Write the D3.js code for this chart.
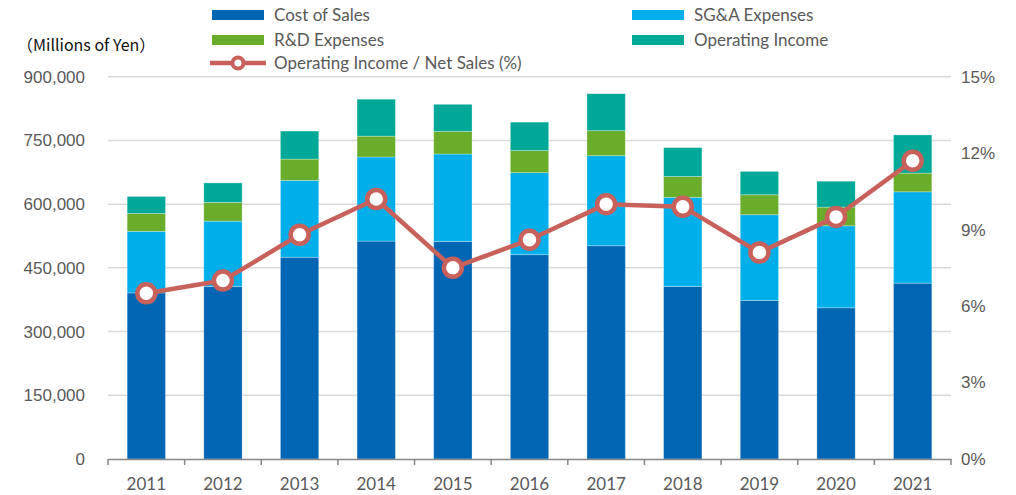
<!DOCTYPE html>
<html><head><meta charset="utf-8">
<script src="https://cdn.jsdelivr.net/npm/d3@7"></script>
<style>
body{margin:0;background:#fff;}
svg{display:block;font-family:"Lato","Open Sans",sans-serif;}
</style></head>
<body><svg id="c" width="1016" height="495"></svg>
<script>
const years = ["2011","2012","2013","2014","2015","2016","2017","2018","2019","2020","2021"];
const costOfSales = [391,406,475,513,512,481,502,406,373,356,414];
const sgaExpenses = [145,154,181,198,206,193,212,210,202,193,215];
const rdExpenses = [42,44,50,49,53,52,59,49,47,44,44];
const operatingIncome = [40,46,66,87,64,67,87,68,55,61,90];
const opMargin = [6.5,7.0,8.8,10.2,7.5,8.6,10.0,9.9,8.1,9.5,11.7];
const leftTicks = [0,150000,300000,450000,600000,750000,900000];
const rightTicks = [0,3,6,9,12,15];
const seriesNames = ["Cost of Sales","SG&A Expenses","R&D Expenses","Operating Income"];
const lineName = "Operating Income / Net Sales (%)";
const colors = ["#0066b3","#00aeea","#6aad2b","#00a997"];
const lineColor = "#c8605b";

(function(){
const svg = d3.select("#c");
const pLeft = 108, pRight = 951, pTop = 76.7, pBottom = 459;

const x = d3.scaleBand().domain(years).range([pLeft,pRight]).paddingInner(0.5).paddingOuter(0.25);
const xb = d3.scaleBand().domain(years).range([pLeft,pRight]);
const y = d3.scaleLinear().domain([0,900000]).range([pBottom,pTop]);
const y2 = d3.scaleLinear().domain([0,15]).range([pBottom,pTop]);

// gridlines
svg.append("g").selectAll("line").data(leftTicks.filter(d=>d>0)).join("line")
  .attr("x1",pLeft).attr("x2",pRight).attr("y1",d=>y(d)).attr("y2",d=>y(d))
  .attr("stroke","#d9d9d9").attr("stroke-width",1.5);

// stacked data
const rows = years.map((yr,i)=>({year:yr, s0:costOfSales[i]*1000, s1:sgaExpenses[i]*1000, s2:rdExpenses[i]*1000, s3:operatingIncome[i]*1000}));
const stack = d3.stack().keys(["s0","s1","s2","s3"])(rows);
svg.append("g").selectAll("g").data(stack).join("g")
  .attr("fill",(d,i)=>colors[i])
  .selectAll("rect").data(d=>d).join("rect")
  .attr("x",d=>x(d.data.year)).attr("width",x.bandwidth())
  .attr("y",d=>y(d[1])).attr("height",d=>y(d[0])-y(d[1]))
  .attr("stroke","rgba(255,255,255,0.35)").attr("stroke-width",0.8);

// x axis
const xAxis = d3.axisBottom(xb).tickSize(0).tickPadding(19);
const gx = svg.append("g").attr("transform",`translate(0,${pBottom})`).call(xAxis);
gx.select(".domain").attr("stroke","#868686").attr("stroke-width",1.5);
gx.selectAll("text").attr("fill","#595959").attr("font-size",17).attr("font-family","Lato");
const bounds = years.map(d=>xb(d)).concat([pRight]);
svg.append("g").selectAll("line").data(bounds).join("line")
  .attr("x1",d=>d).attr("x2",d=>d).attr("y1",pBottom).attr("y2",pBottom+6)
  .attr("stroke","#868686").attr("stroke-width",1.5);

// left axis
const yAxis = d3.axisLeft(y).tickValues(leftTicks).tickSize(0).tickPadding(23).tickFormat(d3.format(","));
const gy = svg.append("g").attr("transform",`translate(${pLeft},0)`).call(yAxis);
gy.select(".domain").remove();
gy.selectAll("text").attr("fill","#595959").attr("font-size",17);

// right axis
const y2Axis = d3.axisRight(y2).tickValues(rightTicks).tickSize(0).tickPadding(10).tickFormat(d=>d+"%");
const gy2 = svg.append("g").attr("transform",`translate(${pRight},0)`).call(y2Axis);
gy2.select(".domain").remove();
gy2.selectAll("text").attr("fill","#595959").attr("font-size",17);

// line
const cx = d => xb(d)+xb.bandwidth()/2;
svg.append("path").datum(opMargin)
  .attr("fill","none").attr("stroke",lineColor).attr("stroke-width",4.5).attr("stroke-linejoin","round")
  .attr("d",d3.line().x((d,i)=>cx(years[i])).y(d=>y2(d)));
svg.append("g").selectAll("circle").data(opMargin).join("circle")
  .attr("cx",(d,i)=>cx(years[i])).attr("cy",d=>y2(d)).attr("r",9)
  .attr("fill","#fff").attr("stroke",lineColor).attr("stroke-width",4.5);

// axis title
svg.append("text").attr("x",17).attr("y",51).attr("font-size",16).attr("fill","#111")
  .attr("font-family","'Noto Sans CJK JP', Lato, sans-serif").text("（Millions of Yen）");

// legend
const leg = [
  {name:seriesNames[0], c:colors[0], x:212, y:15},
  {name:seriesNames[2], c:colors[2], x:212, y:40},
  {name:seriesNames[1], c:colors[1], x:632, y:15},
  {name:seriesNames[3], c:colors[3], x:632, y:40}
];
const lg = svg.append("g");
leg.forEach(l=>{
  lg.append("rect").attr("x",l.x).attr("y",l.y-5).attr("width",52).attr("height",10).attr("fill",l.c);
  lg.append("text").attr("x",l.x+62).attr("y",l.y).attr("dy","0.35em").attr("font-size",17).attr("fill","#595959").text(l.name);
});
lg.append("line").attr("x1",210).attr("x2",266).attr("y1",63).attr("y2",63).attr("stroke",lineColor).attr("stroke-width",4.5);
lg.append("circle").attr("cx",238).attr("cy",63).attr("r",5.5).attr("fill","#fff").attr("stroke",lineColor).attr("stroke-width",4);
lg.append("text").attr("x",274).attr("y",63).attr("dy","0.35em").attr("font-size",17).attr("fill","#595959").text(lineName);
})();
</script></body></html>
